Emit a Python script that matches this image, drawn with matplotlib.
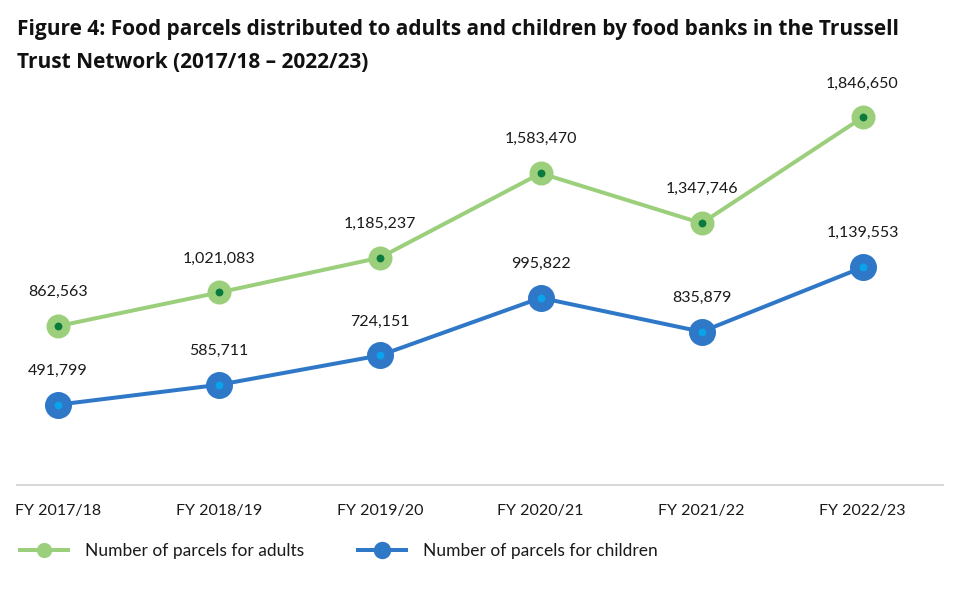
import matplotlib
matplotlib.use("Agg")
import matplotlib.pyplot as plt

categories = ["FY 2017/18", "FY 2018/19", "FY 2019/20", "FY 2020/21", "FY 2021/22", "FY 2022/23"]
adults = [862563, 1021083, 1185237, 1583470, 1347746, 1846650]
children = [491799, 585711, 724151, 995822, 835879, 1139553]

plt.rcParams['font.family'] = ['Lato', 'DejaVu Sans']
px = 72 / 100.0  # points per pixel

fig = plt.figure(figsize=(9.6, 5.96), dpi=100)
ax = fig.add_axes([17/960, 1-485/596, (943-17)/960, (485-75)/596])

x = list(range(len(categories)))
green_line = "#9ccf7c"
green_dot = "#0b7a3e"
blue_line = "#2f78c8"
blue_dot = "#0aa2ea"

ax.plot(x, adults, color=green_line, lw=4*px, marker='o', ms=16*px, mew=8*px,
        mfc=green_dot, mec=green_line, label="Number of parcels for adults", zorder=3)
ax.plot(x, children, color=blue_line, lw=4*px, marker='o', ms=17.5*px, mew=9.5*px,
        mfc=blue_dot, mec=blue_line, label="Number of parcels for children", zorder=3)

for xi, v in zip(x, adults):
    ax.annotate(f"{v:,}", (xi, v), xytext=(0, 34*px), textcoords='offset points',
                ha='center', va='center', fontsize=11.5, color="#1a1a1a")
for xi, v in zip(x, children):
    ax.annotate(f"{v:,}", (xi, v), xytext=(0, 34*px), textcoords='offset points',
                ha='center', va='center', fontsize=11.5, color="#1a1a1a")

ax.set_xlim(-0.255, 5.5)
ax.set_ylim(113000, 2047000)
for s in ['top', 'right', 'left']:
    ax.spines[s].set_visible(False)
ax.spines['bottom'].set_color("#d9d9d9")
ax.spines['bottom'].set_linewidth(2*px)
ax.set_yticks([])
ax.set_xticks(x)
ax.set_xticklabels(categories, fontsize=11.5, color="#1a1a1a")
ax.tick_params(axis='x', length=0, pad=14)

title_font = ['Open Sans', 'DejaVu Sans']
fig.text(17/960, 1-30/596, "Figure 4: Food parcels distributed to adults and children by food banks in the Trussell",
         fontsize=15, fontweight='bold', color="#111111", va='center', ha='left', family=title_font)
fig.text(17/960, 1-62/596, "Trust Network (2017/18 \u2013 2022/23)",
         fontsize=15, fontweight='bold', color="#111111", va='center', ha='left', family=title_font)

leg = fig.legend(loc='center left', bbox_to_anchor=(20/960, 1-551/596), ncol=2, frameon=False,
                 fontsize=12.5, handlelength=2.76, columnspacing=3.1, markerscale=0.45,
                 handletextpad=0.98, borderpad=0, borderaxespad=0)
for t in leg.get_texts():
    t.set_color("#1a1a1a")

fig.savefig("out.png", dpi=100)
